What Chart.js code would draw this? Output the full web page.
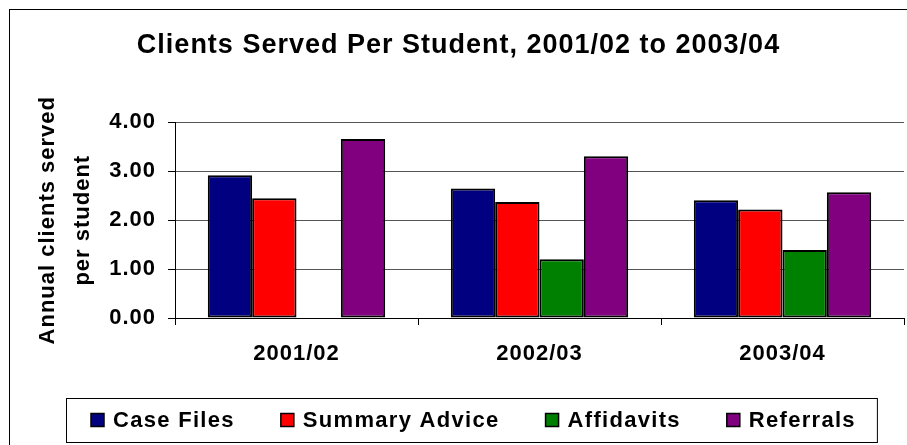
<!DOCTYPE html>
<html>
<head>
<meta charset="utf-8">
<script src="https://cdn.jsdelivr.net/npm/chart.js@4/dist/chart.umd.min.js"></script>
<style>
  html, body { margin: 0; padding: 0; background: #fff; }
  #wrap { width: 907px; height: 445px; }
</style>
</head>
<body>
<div id="wrap"><canvas id="clientsChart"></canvas></div>
<script>
const categories = ['2001/02', '2002/03', '2003/04'];
const caseFiles = [2.92, 2.65, 2.41];
const summaryAdvice = [2.45, 2.37, 2.22];
const affidavits = [null, 1.20, 1.39];
const referrals = [3.66, 3.31, 2.57];
const yTicks = [0, 1, 2, 3, 4];

const FONT = "'Liberation Sans', Arial, sans-serif";
const SPACING = '1px';

// Excel-ish text is a bit wider than plain Arial
const spacingPlugin = {
	id: 'spacing',
	beforeUpdate(chart) { chart.ctx.letterSpacing = SPACING; },
	beforeDraw(chart) {
		const ctx = chart.ctx;
		ctx.letterSpacing = SPACING;
		ctx.save();
		ctx.fillStyle = '#fff';
		ctx.fillRect(0, 0, chart.width, chart.height);
		ctx.strokeStyle = '#000';
		ctx.lineWidth = 1;
		ctx.strokeRect(9.5, 9.5, 1000, 1000);
		ctx.restore();
	}
};

// legend drawn by hand so the framed box can be spaced like the original
const legendPlugin = {
	id: 'boxLegend',
	afterDraw(chart) {
		const ctx = chart.ctx;
		const sets = chart.data.datasets;
		const box = 13, gap = 9, itemGap = 46, centerX = 473, midY = 420;
		ctx.save();
		ctx.letterSpacing = '1.3px';
		ctx.font = 'bold 22px ' + FONT;
		ctx.textBaseline = 'middle';
		ctx.textAlign = 'left';
		const widths = sets.map(ds => ctx.measureText(ds.label).width);
		let total = widths.reduce((a, w) => a + box + gap + w, 0) + itemGap * (sets.length - 1);
		let x = Math.round(centerX - total / 2);
		const left = x - 25;
		sets.forEach((ds, i) => {
			ctx.fillStyle = ds.backgroundColor;
			ctx.fillRect(x, midY - box / 2, box, box);
			ctx.strokeStyle = '#000';
			ctx.lineWidth = 1.5;
			ctx.strokeRect(x, midY - box / 2, box, box);
			ctx.fillStyle = '#000';
			ctx.fillText(ds.label, x + box + gap, midY + 1);
			x += box + gap + widths[i] + itemGap;
		});
		const right = x - itemGap + 21;
		ctx.strokeStyle = '#000';
		ctx.lineWidth = 1;
		ctx.strokeRect(left + 0.5, 398.5, right - left, 44);
		ctx.restore();
	}
};

const barStyle = { borderColor: '#000', borderWidth: 2, borderSkipped: false };

new Chart(document.getElementById('clientsChart'), {
	type: 'bar',
	data: {
		labels: categories,
		datasets: [
			{ label: 'Case Files', data: caseFiles, backgroundColor: '#000080', ...barStyle },
			{ label: 'Summary Advice', data: summaryAdvice, backgroundColor: '#FF0000', ...barStyle },
			{ label: 'Affidavits', data: affidavits, backgroundColor: '#008000', ...barStyle },
			{ label: 'Referrals', data: referrals, backgroundColor: '#800080', ...barStyle }
		]
	},
	options: {
		responsive: true,
		maintainAspectRatio: false,
		animation: false,
		devicePixelRatio: 1,
		categoryPercentage: 0.73,
		barPercentage: 1,
		layout: { padding: { left: 13, right: 3, top: 0, bottom: 0 } },
		plugins: {
			legend: { display: false },
			tooltip: { enabled: false },
			title: {
				display: true,
				text: 'Clients Served Per Student, 2001/02 to 2003/04',
				color: '#000',
				font: { family: FONT, size: 27, weight: 'bold', lineHeight: 1.2 },
				padding: { top: 29, bottom: 61 }
			}
		},
		scales: {
			x: {
				afterFit(scale) { scale.height = 127; },
				border: { display: true, color: '#000', width: 1 },
				grid: { drawOnChartArea: false, drawTicks: true, tickLength: 7, tickColor: '#000', offset: true },
				ticks: { color: '#000', padding: 16, font: { family: FONT, size: 22, weight: 'bold' } }
			},
			y: {
				min: 0,
				max: 4,
				afterFit(scale) { scale.width = 162; },
				afterBuildTicks(scale) { scale.ticks = yTicks.map(v => ({ value: v })); },
				border: { display: true, color: '#000', width: 1 },
				grid: { color: '#555', lineWidth: 1, tickLength: 7, tickColor: '#000' },
				ticks: {
					color: '#000',
					padding: 12,
					font: { family: FONT, size: 22, weight: 'bold' },
					callback: v => v.toFixed(2)
				},
				title: {
					display: true,
					text: ['Annual clients served', 'per student'],
					color: '#000',
					font: { family: FONT, size: 22, weight: 'bold', lineHeight: 1.6 },
					padding: { top: 17, bottom: 0 }
				}
			}
		}
	},
	plugins: [spacingPlugin, legendPlugin]
});
</script>
</body>
</html>
